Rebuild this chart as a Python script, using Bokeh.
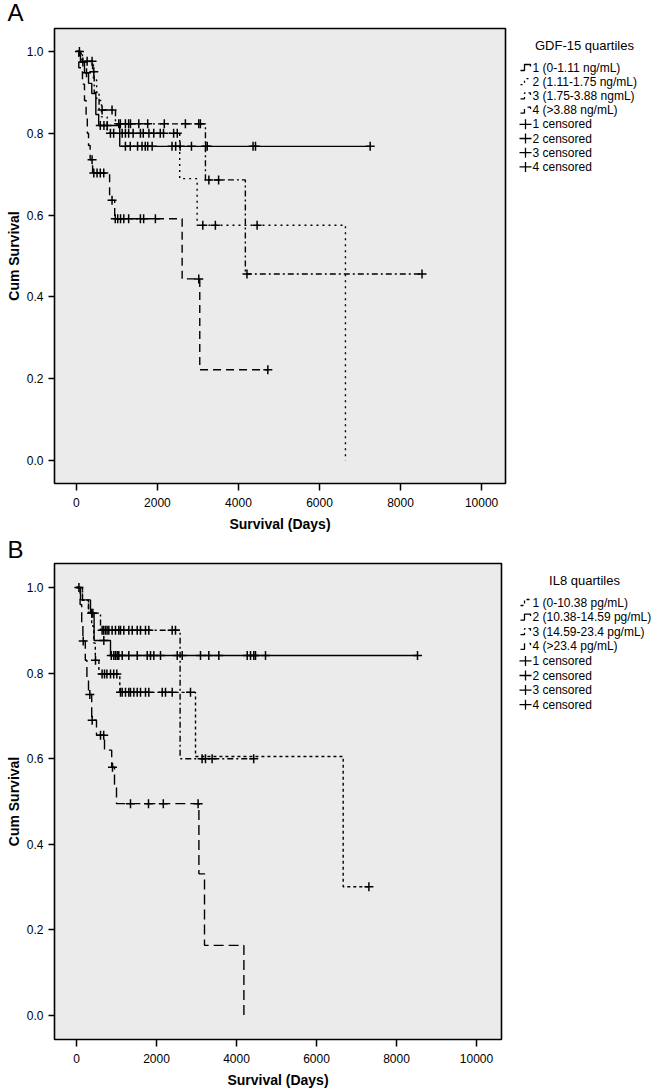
from bokeh.plotting import figure
from bokeh.models import Range1d, FixedTicker, PrintfTickFormatter
from bokeh.core.properties import value
from bokeh.layouts import column, row
from bokeh.embed import file_html
from bokeh.resources import INLINE

# ---------------- Panel A: GDF-15 quartiles ----------------
A_title = "GDF-15 quartiles"
A_labels = ["1 (0-1.11 ng/mL)", "2 (1.11-1.75 ng/mL)", "3 (1.75-3.88 ngmL)", "4 (>3.88 ng/mL)"]

A1_drop_t = [100, 200, 300, 380, 480, 550, 1070]
A1_drop_s = [0.974, 0.948, 0.922, 0.897, 0.846, 0.819, 0.768]
A1_end = 7250
A1_cens = [75, 160, 250, 590, 680, 760, 1210, 1330, 1510, 1620, 1700, 1760, 1870,
           2360, 2450, 2560, 2840, 3190, 3230, 4360, 4420, 7250]

A2_drop_t = [120, 420, 500, 620, 760, 2550, 2980, 6640]
A2_drop_s = [0.976, 0.93, 0.88, 0.84, 0.80, 0.689, 0.575, 0.0]
A2_end = 6640
A2_cens = [265, 387, 840, 920, 1130, 1210, 1290, 1400, 1580, 1650, 1790, 1910, 2070,
           2150, 2400, 2490, 3120, 3430, 4460]

A3_drop_t = [150, 400, 440, 560, 965, 3185, 4170]
A3_drop_s = [0.975, 0.95, 0.90, 0.857, 0.823, 0.686, 0.456]
A3_end = 8530
A3_cens = [430, 635, 880, 1045, 1085, 1210, 1290, 1335, 1540, 1760, 2170, 2690, 3020,
           3060, 3270, 3510, 4210, 8530]

A4_drop_t = [60, 150, 200, 240, 270, 300, 340, 400, 820, 945, 2610, 3045]
A4_drop_s = [0.96, 0.92, 0.88, 0.84, 0.80, 0.77, 0.735, 0.703, 0.636, 0.591, 0.444, 0.222]
A4_end = 4725
A4_cens = [387, 430, 510, 590, 675, 880, 960, 1020, 1090, 1170, 1290, 1580, 1660, 1950,
           3020, 4725]

# ---------------- Panel B: IL8 quartiles ----------------
B_title = "IL8 quartiles"
B_labels = ["1 (0-10.38 pg/mL)", "2 (10.38-14.59 pg/mL)", "3 (14.59-23.4 pg/mL)", "4 (>23.4 pg/mL)"]

B1_drop_t = [150, 300, 380, 433, 470, 560, 1083, 2975, 6667]
B1_drop_s = [0.97, 0.94, 0.91, 0.87, 0.83, 0.798, 0.755, 0.605, 0.301]
B1_end = 7310
B1_cens = [475, 640, 700, 760, 850, 930, 1008, 1100, 1143, 1225, 1308, 1350, 1433, 1518,
           1600, 1725, 1808, 2143, 2225, 2393, 2850, 7310]

B2_drop_t = [100, 350, 440, 850]
B2_drop_s = [0.971, 0.94, 0.876, 0.841]
B2_end = 8525
B2_cens = [60, 380, 410, 683, 870, 933, 975, 1018, 1058, 1143, 1308, 1518, 1768, 1850,
           1933, 2100, 2518, 2643, 3100, 3308, 3558, 4268, 4350, 4433, 4475, 4725, 8525]

B3_drop_t = [150, 300, 600, 2590]
B3_drop_s = [0.97, 0.94, 0.90, 0.60]
B3_end = 4430
B3_cens = [640, 680, 725, 765, 808, 890, 975, 1058, 1100, 1183, 1308, 1393, 1518, 1600,
           1725, 1808, 2392, 2475, 3140, 3225, 3390, 4430]

B4_drop_t = [90, 130, 160, 220, 260, 300, 380, 500, 700, 880, 950, 1000, 3060, 3200, 4185]
B4_drop_s = [0.96, 0.92, 0.875, 0.83, 0.79, 0.75, 0.69, 0.655, 0.62, 0.58, 0.54, 0.495,
             0.331, 0.164, 0.0]
B4_end = 4185
B4_cens = [168, 333, 392, 600, 680, 900, 1350, 1800, 2170, 3040]

x_ticks = [0, 2000, 4000, 6000, 8000, 10000]
y_ticks = [0.0, 0.2, 0.4, 0.6, 0.8, 1.0]

FONT = "Liberation Sans"


def surv_at(t, drop_t, drop_s):
    s = 1.0
    for dt, ds in zip(drop_t, drop_s):
        if dt <= t:
            s = ds
    return s


def pixel_fig(width, height):
    # a bare figure whose data units are screen pixels (y downwards)
    p = figure(width=width, height=height, output_backend="svg", toolbar_location=None,
               x_range=Range1d(0, width), y_range=Range1d(height, 0),
               x_axis_location=None, y_axis_location=None, title=None,
               min_border=0, min_border_left=0, min_border_right=0,
               min_border_top=0, min_border_bottom=0)
    p.grid.visible = False
    p.outline_line_color = None
    p.background_fill_color = "white"
    p.border_fill_color = "white"
    return p


def make_strip(letter, width, height, mid_y):
    p = pixel_fig(width, height)
    p.text([7], [mid_y], text=[letter], text_font=value(FONT), text_font_size="24px",
           text_baseline="middle", text_color="black")
    return p


def make_main(groups, dashes, width, height, b_bottom, b_right, xr):
    p = figure(width=width, height=height, output_backend="svg", toolbar_location=None,
               x_range=Range1d(*xr), y_range=Range1d(-0.056, 1.056), title=None,
               min_border_left=54, min_border_right=b_right,
               min_border_top=1, min_border_bottom=b_bottom)
    p.background_fill_color = "#ebebeb"
    p.border_fill_color = "white"
    p.outline_line_color = "black"
    p.outline_line_width = 1.6
    p.grid.visible = False

    for (dt, ds, end, cens), dash in zip(groups, dashes):
        xs = [0] + list(dt)
        ys = [1.0] + list(ds)
        if end > xs[-1]:
            xs.append(end)
            ys.append(ys[-1])
        p.step(xs, ys, mode="after", line_color="black", line_width=1.4, line_dash=dash)
        cy = [surv_at(t, dt, ds) for t in cens]
        p.scatter(cens, cy, marker="cross", size=9, line_color="black", line_width=1.5)

    p.xaxis.ticker = FixedTicker(ticks=x_ticks)
    p.yaxis.ticker = FixedTicker(ticks=y_ticks)
    p.xaxis.formatter = PrintfTickFormatter(format="%d")
    p.yaxis.formatter = PrintfTickFormatter(format="%.1f")
    p.xaxis.axis_label = "Survival (Days)"
    p.yaxis.axis_label = "Cum Survival"
    for ax in (p.xaxis[0], p.yaxis[0]):
        ax.axis_line_color = None
        ax.major_tick_line_color = "black"
        ax.major_tick_line_width = 1.5
        ax.minor_tick_line_color = None
        ax.major_tick_in = 0
        ax.major_label_text_font = FONT
        ax.major_label_text_font_size = "12px"
        ax.major_label_text_color = "black"
        ax.axis_label_text_font = FONT
        ax.axis_label_text_font_size = "14px"
        ax.axis_label_text_font_style = "bold"
        ax.axis_label_text_color = "black"
    p.yaxis.major_tick_out = 6
    p.yaxis.major_label_standoff = 5
    p.yaxis.axis_label_standoff = 2
    p.xaxis.major_tick_out = 7
    p.xaxis.major_label_standoff = 7
    p.xaxis.axis_label_standoff = 6
    return p


def make_legend(title, labels, dashes, width, height, title_y, y0, dy):
    p = pixel_fig(width, height)
    p.text([74], [title_y], text=[title], text_font=value(FONT), text_font_size="13px",
           text_align="center", text_baseline="middle", text_color="black")

    names = list(labels) + [f"{i + 1} censored" for i in range(4)]
    ys = [y0 + dy * i for i in range(8)]
    for i, dash in enumerate(dashes):
        y = ys[i]
        p.line([10, 14, 14, 20, 20], [y + 3, y + 3, y - 3, y - 3, y - 1],
               line_color="black", line_width=1.3, line_dash=dash)
    cy = ys[4:]
    p.segment(x0=[9] * 4, y0=cy, x1=[21] * 4, y1=cy, line_color="black", line_width=1.3)
    p.segment(x0=[15] * 4, y0=[c - 5 for c in cy], x1=[15] * 4, y1=[c + 5 for c in cy],
              line_color="black", line_width=1.3)
    p.text([22] * 8, ys, text=names, text_font=value(FONT), text_font_size="12px",
           text_baseline="middle", text_color="black")
    return p


groupsA = [(A1_drop_t, A1_drop_s, A1_end, A1_cens), (A2_drop_t, A2_drop_s, A2_end, A2_cens),
           (A3_drop_t, A3_drop_s, A3_end, A3_cens), (A4_drop_t, A4_drop_s, A4_end, A4_cens)]
groupsB = [(B1_drop_t, B1_drop_s, B1_end, B1_cens), (B2_drop_t, B2_drop_s, B2_end, B2_cens),
           (B3_drop_t, B3_drop_s, B3_end, B3_cens), (B4_drop_t, B4_drop_s, B4_end, B4_cens)]

dashA = ["solid", "2 4", "6 3 2 3", "8 5"]
dashB = ["3 3", "solid", "6 3 2 3", "10 5"]

sA = make_strip("A", 655, 27, 12)
pA = make_main(groupsA, dashA, 510, 508, 52, 5, (-540, 10590))
lA = make_legend(A_title, A_labels, dashA, 145, 508, 18, 40, 14.2)

sB = make_strip("B", 655, 27, 14)
pB = make_main(groupsB, dashB, 510, 529, 52, 9, (-550, 10625))
lB = make_legend(B_title, B_labels, dashB, 145, 529, 18, 40, 14.6)

layout = column(sA,
                row(column(pA, spacing=0), column(lA, spacing=0), spacing=0),
                sB,
                row(column(pB, spacing=0), column(lB, spacing=0), spacing=0),
                spacing=0)
open("out.html", "w").write(file_html(layout, INLINE))
